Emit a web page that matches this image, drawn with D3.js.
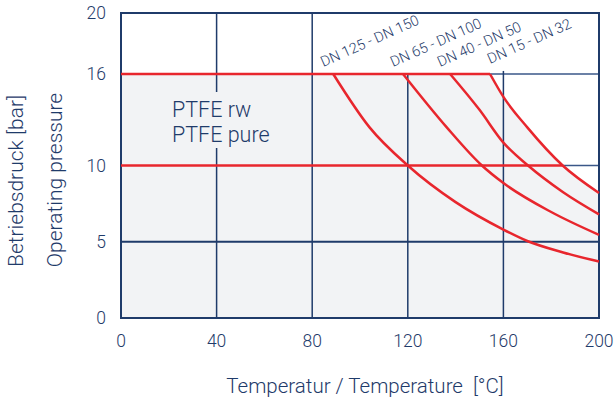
<!DOCTYPE html>
<html>
<head>
<meta charset="utf-8">
<script src="https://cdn.jsdelivr.net/npm/d3@7"></script>
<style>
  body { margin: 0; background: #fff; }
  text { font-family: Roboto, "Liberation Sans", sans-serif; font-weight: 300; fill: #1f3b6a; }
</style>
</head>
<body>
<script>
// ticks
var xTicks = [0, 40, 80, 120, 160, 200];
var yTicks = [0, 5, 10, 16, 20];

// pressure / temperature curves per nominal size
var seriesNames = ['DN 125 - DN 150', 'DN 65 - DN 100', 'DN 40 - DN 50', 'DN 15 - DN 32'];
var tempDN125 = [88.8, 104, 120, 140, 160, 170, 185, 200];
var presDN125 = [16, 12.5, 10, 7.6, 5.8, 5.05, 4.3, 3.7];
var tempDN65 = [118, 136.3, 151, 160, 180, 200];
var presDN65 = [16, 12.5, 10, 8.85, 6.95, 5.45];
var tempDN40 = [137.7, 150, 160, 170.3, 185, 200];
var presDN40 = [16, 13.65, 11.5, 10, 8.25, 6.8];
var tempDN15 = [154.4, 160, 170, 184.8, 200];
var presDN15 = [16, 14.5, 12.5, 10, 8.2];

var materialLines = ['PTFE rw', 'PTFE pure'];

var red = '#e8262d', blue = '#1f3b6a', grey = '#f2f3f5';

var svg = d3.select('body').append('svg').attr('width', 615).attr('height', 401);

var x = d3.scaleLinear().domain([0, 200]).range([121, 599]);
var y = d3.scaleLinear().domain([0, 20]).range([318, 13]);

function pts(t, p) { return t.map(function(d, i) { return [d, p[i]]; }); }
var curves = [pts(tempDN125, presDN125), pts(tempDN65, presDN65), pts(tempDN40, presDN40), pts(tempDN15, presDN15)];

var line = d3.line().x(function(d) { return x(d[0]); }).y(function(d) { return y(d[1]); }).curve(d3.curveMonotoneX);

/*GREY AREA under the outer envelope*/
var outer = [[0, 16]].concat(curves[3]);
var area = d3.area().x(function(d) { return x(d[0]); }).y0(y(0)).y1(function(d) { return y(d[1]); }).curve(d3.curveMonotoneX);
svg.append('path').attr('d', area(outer)).attr('fill', grey);

/*GRID*/
// horizontal 5 in blue all the way
svg.append('line').attr('x1', x(0)).attr('x2', x(200)).attr('y1', y(5)).attr('y2', y(5))
    .attr('stroke', blue).attr('stroke-width', 2);
// blue remainders of 16 and 10 right of the envelope
svg.append('line').attr('x1', x(tempDN15[0])).attr('x2', x(200)).attr('y1', y(16)).attr('y2', y(16))
    .attr('stroke', '#3a5788').attr('stroke-width', 1.5);
svg.append('line').attr('x1', x(184.8)).attr('x2', x(200)).attr('y1', y(10)).attr('y2', y(10))
    .attr('stroke', '#3a5788').attr('stroke-width', 1.5);

// verticals
svg.append('line').attr('x1', x(40)).attr('x2', x(40)).attr('y1', y(20)).attr('y2', y(0))
    .attr('stroke', blue).attr('stroke-width', 1.5);
svg.append('line').attr('x1', x(80)).attr('x2', x(80)).attr('y1', y(20)).attr('y2', y(0))
    .attr('stroke', blue).attr('stroke-width', 1.5);
svg.append('line').attr('x1', x(120)).attr('x2', x(120)).attr('y1', y(16)).attr('y2', y(0))
    .attr('stroke', blue).attr('stroke-width', 1.5);
svg.append('line').attr('x1', x(160)).attr('x2', x(160)).attr('y1', y(16.2)).attr('y2', y(0))
    .attr('stroke', blue).attr('stroke-width', 1.5);

/*FRAME*/
svg.append('rect').attr('x', x(0)).attr('y', y(20)).attr('width', x(200) - x(0)).attr('height', y(0) - y(20))
    .attr('fill', 'none').attr('stroke', blue).attr('stroke-width', 2);

/*MATERIAL LABEL with grey box cutting the 40 line*/
svg.append('rect').attr('x', x(40) - 8).attr('y', 92).attr('width', 20).attr('height', 56).attr('fill', grey);
svg.append('text').selectAll('tspan')
    .data(materialLines)
    .enter().append('tspan')
        .attr('x', 172)
        .attr('y', function(d, i) { return 117 + i * 25; })
        .attr('font-size', 21.5)
        .text(function(d) { return d; });

/*RED LIMITS*/
svg.append('line').attr('x1', x(0)).attr('x2', x(tempDN15[0])).attr('y1', y(16)).attr('y2', y(16))
    .attr('stroke', red).attr('stroke-width', 2.5);
svg.append('line').attr('x1', x(0)).attr('x2', x(184.8)).attr('y1', y(10)).attr('y2', y(10))
    .attr('stroke', red).attr('stroke-width', 2.5);

svg.selectAll('path.curve')
    .data(curves)
    .enter().append('path')
        .attr('class', 'curve')
        .attr('d', line)
        .attr('fill', 'none')
        .attr('stroke', red)
        .attr('stroke-width', 2.5);

/*CURVE LABELS*/
svg.selectAll('text.dn')
    .data(seriesNames)
    .enter().append('text')
        .attr('class', 'dn')
        .attr('font-size', 14.5)
        .attr('transform', function(d, i) {
            var sx = x(curves[i][0][0]) - (i == 3 ? 0 : 10);
            var sy = y(16) - (i == 3 ? 10 : 7);
            return 'translate(' + sx + ',' + sy + ') rotate(-24)';
        })
        .text(function(d) { return d; });

/*TICK LABELS*/
svg.selectAll('text.xt')
    .data(xTicks)
    .enter().append('text')
        .attr('class', 'xt')
        .attr('x', function(d) { return x(d); })
        .attr('y', 347)
        .attr('text-anchor', 'middle')
        .attr('font-size', 17.5)
        .text(function(d) { return d; });

svg.selectAll('text.yt')
    .data(yTicks)
    .enter().append('text')
        .attr('class', 'yt')
        .attr('x', 106)
        .attr('y', function(d) { return y(d); })
        .attr('dy', '0.35em')
        .attr('text-anchor', 'end')
        .attr('font-size', 17.5)
        .text(function(d) { return d; });

/*AXIS TITLES*/
svg.append('text')
    .attr('x', 365).attr('y', 393)
    .attr('text-anchor', 'middle')
    .attr('font-size', 20.5)
    .attr('xml:space', 'preserve')
    .text('Temperatur / Temperature  [°C]');

svg.append('text')
    .attr('transform', 'translate(23,181) rotate(-90)')
    .attr('text-anchor', 'middle')
    .attr('font-size', 21)
    .text('Betriebsdruck [bar]');

svg.append('text')
    .attr('transform', 'translate(62,180) rotate(-90)')
    .attr('text-anchor', 'middle')
    .attr('font-size', 21)
    .text('Operating pressure');
</script>
</body>
</html>
